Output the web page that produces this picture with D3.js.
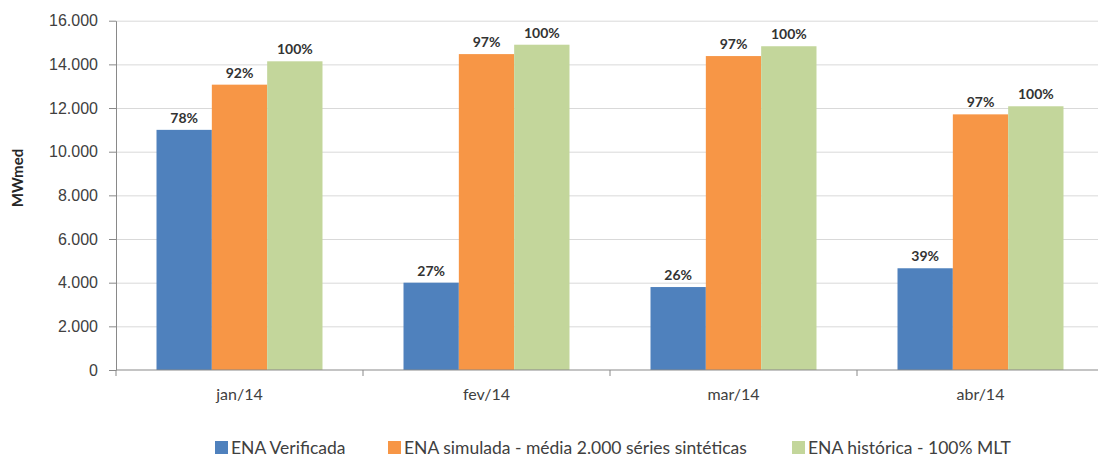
<!DOCTYPE html>
<html>
<head>
<meta charset="utf-8">
<script src="https://cdn.jsdelivr.net/npm/d3@7"></script>
<style>
  body { margin: 0; background: #fff; }
  svg { display: block; font-family: Lato, "Liberation Sans", sans-serif; }
  .grid line { stroke: #d9d9d9; }
  .grid path { display: none; }
  .axis path, .axis line { stroke: #898989; }
  .axis text { fill: #404040; font-size: 16px; }
  .label { fill: #333; font-size: 14px; font-weight: bold; }
  .legend text { fill: #404040; font-size: 17.5px; }
</style>
</head>
<body>
<svg class="chart" width="1098" height="457"></svg>
<script>
"use strict";

// data
var months = ['jan/14', 'fev/14', 'mar/14', 'abr/14'];
var seriesNames = [
  'ENA Verificada',
  'ENA simulada - média 2.000 séries sintéticas',
  'ENA histórica - 100% MLT'
];
var verificada = [11000, 4000, 3800, 4660];
var simulada = [13070, 14470, 14380, 11710];
var historica = [14140, 14900, 14830, 12080];
var pctVerificada = ['78%', '27%', '26%', '39%'];
var pctSimulada = ['92%', '97%', '97%', '97%'];
var pctHistorica = ['100%', '100%', '100%', '100%'];
var yTicks = [0, 2000, 4000, 6000, 8000, 10000, 12000, 14000, 16000];

var colors = ['#4f81bd', '#f79646', '#c3d69b'];
var seriesValues = [verificada, simulada, historica];
var seriesPct = [pctVerificada, pctSimulada, pctHistorica];

var ptBR = d3.formatLocale({decimal: ',', thousands: '.', grouping: [3], currency: ['R$', '']});
var fmt = ptBR.format(',.0f');

var plotLeft = 116, plotRight = 1104, plotTop = 20.7, plotBottom = 370;

var chart = d3.select('.chart');

var x0 = d3.scaleBand().domain(months).range([plotLeft, plotRight]).padding(0);
var step = x0.step();
var groupPad = step * 0.164;
var x1 = d3.scaleBand().domain(d3.range(3)).range([groupPad, step - groupPad]).padding(0);
var y = d3.scaleLinear().domain([0, 16000]).range([plotBottom, plotTop]);

// gridlines
chart.append('g')
  .attr('class', 'grid')
  .attr('transform', 'translate(' + plotLeft + ',0)')
  .call(d3.axisRight(y).tickValues(yTicks.slice(1)).tickSize(plotRight - plotLeft).tickFormat(''));

// y axis
chart.append('g')
  .attr('class', 'axis')
  .attr('transform', 'translate(' + plotLeft + ',0)')
  .call(d3.axisLeft(y).tickValues(yTicks).tickSize(7).tickSizeOuter(0).tickPadding(11).tickFormat(fmt));

chart.append('text')
  .attr('transform', 'translate(23,178) rotate(-90)')
  .attr('text-anchor', 'middle')
  .style('font-size', '15px')
  .style('font-weight', 'bold')
  .style('fill', '#262626')
  .text('MWmed');

// bars
var rows = [];
months.forEach(function (m, i) {
  seriesValues.forEach(function (vals, s) {
    rows.push({month: m, s: s, value: vals[i], pct: seriesPct[s][i]});
  });
});

chart.selectAll('.bar')
  .data(rows)
  .enter()
  .append('rect')
  .attr('class', 'bar')
  .attr('x', function (d) { return x0(d.month) + x1(d.s); })
  .attr('y', function (d) { return y(d.value); })
  .attr('width', x1.bandwidth())
  .attr('height', function (d) { return plotBottom - y(d.value); })
  .style('fill', function (d) { return colors[d.s]; });

chart.selectAll('.label')
  .data(rows)
  .enter()
  .append('text')
  .attr('class', 'label')
  .attr('x', function (d) { return x0(d.month) + x1(d.s) + x1.bandwidth() / 2; })
  .attr('y', function (d) { return y(d.value) - 7; })
  .attr('text-anchor', 'middle')
  .text(function (d) { return d.pct; });

// x axis: ticks at category boundaries
var xAxis = chart.append('g')
  .attr('class', 'axis')
  .attr('transform', 'translate(0,' + plotBottom + ')');
xAxis.append('line')
  .attr('x1', plotLeft).attr('x2', plotRight)
  .attr('y1', 0).attr('y2', 0);
xAxis.selectAll('.tick-mark')
  .data(months)
  .enter()
  .append('line')
  .attr('x1', function (d) { return x0(d); })
  .attr('x2', function (d) { return x0(d); })
  .attr('y1', 0).attr('y2', 6);
xAxis.selectAll('.tick-label')
  .data(months)
  .enter()
  .append('text')
  .attr('x', function (d) { return x0(d) + step / 2; })
  .attr('y', 30)
  .attr('text-anchor', 'middle')
  .text(function (d) { return d; });

// legend
var legendX = [215, 388, 792];
var legend = chart.append('g').attr('class', 'legend');
var items = legend.selectAll('g')
  .data(seriesNames)
  .enter()
  .append('g')
  .attr('transform', function (d, i) { return 'translate(' + legendX[i] + ',441)'; });
items.append('rect')
  .attr('width', 13).attr('height', 13)
  .style('fill', function (d, i) { return colors[i]; });
items.append('text')
  .attr('x', 16).attr('y', 13)
  .text(function (d) { return d; });
</script>
</body>
</html>
